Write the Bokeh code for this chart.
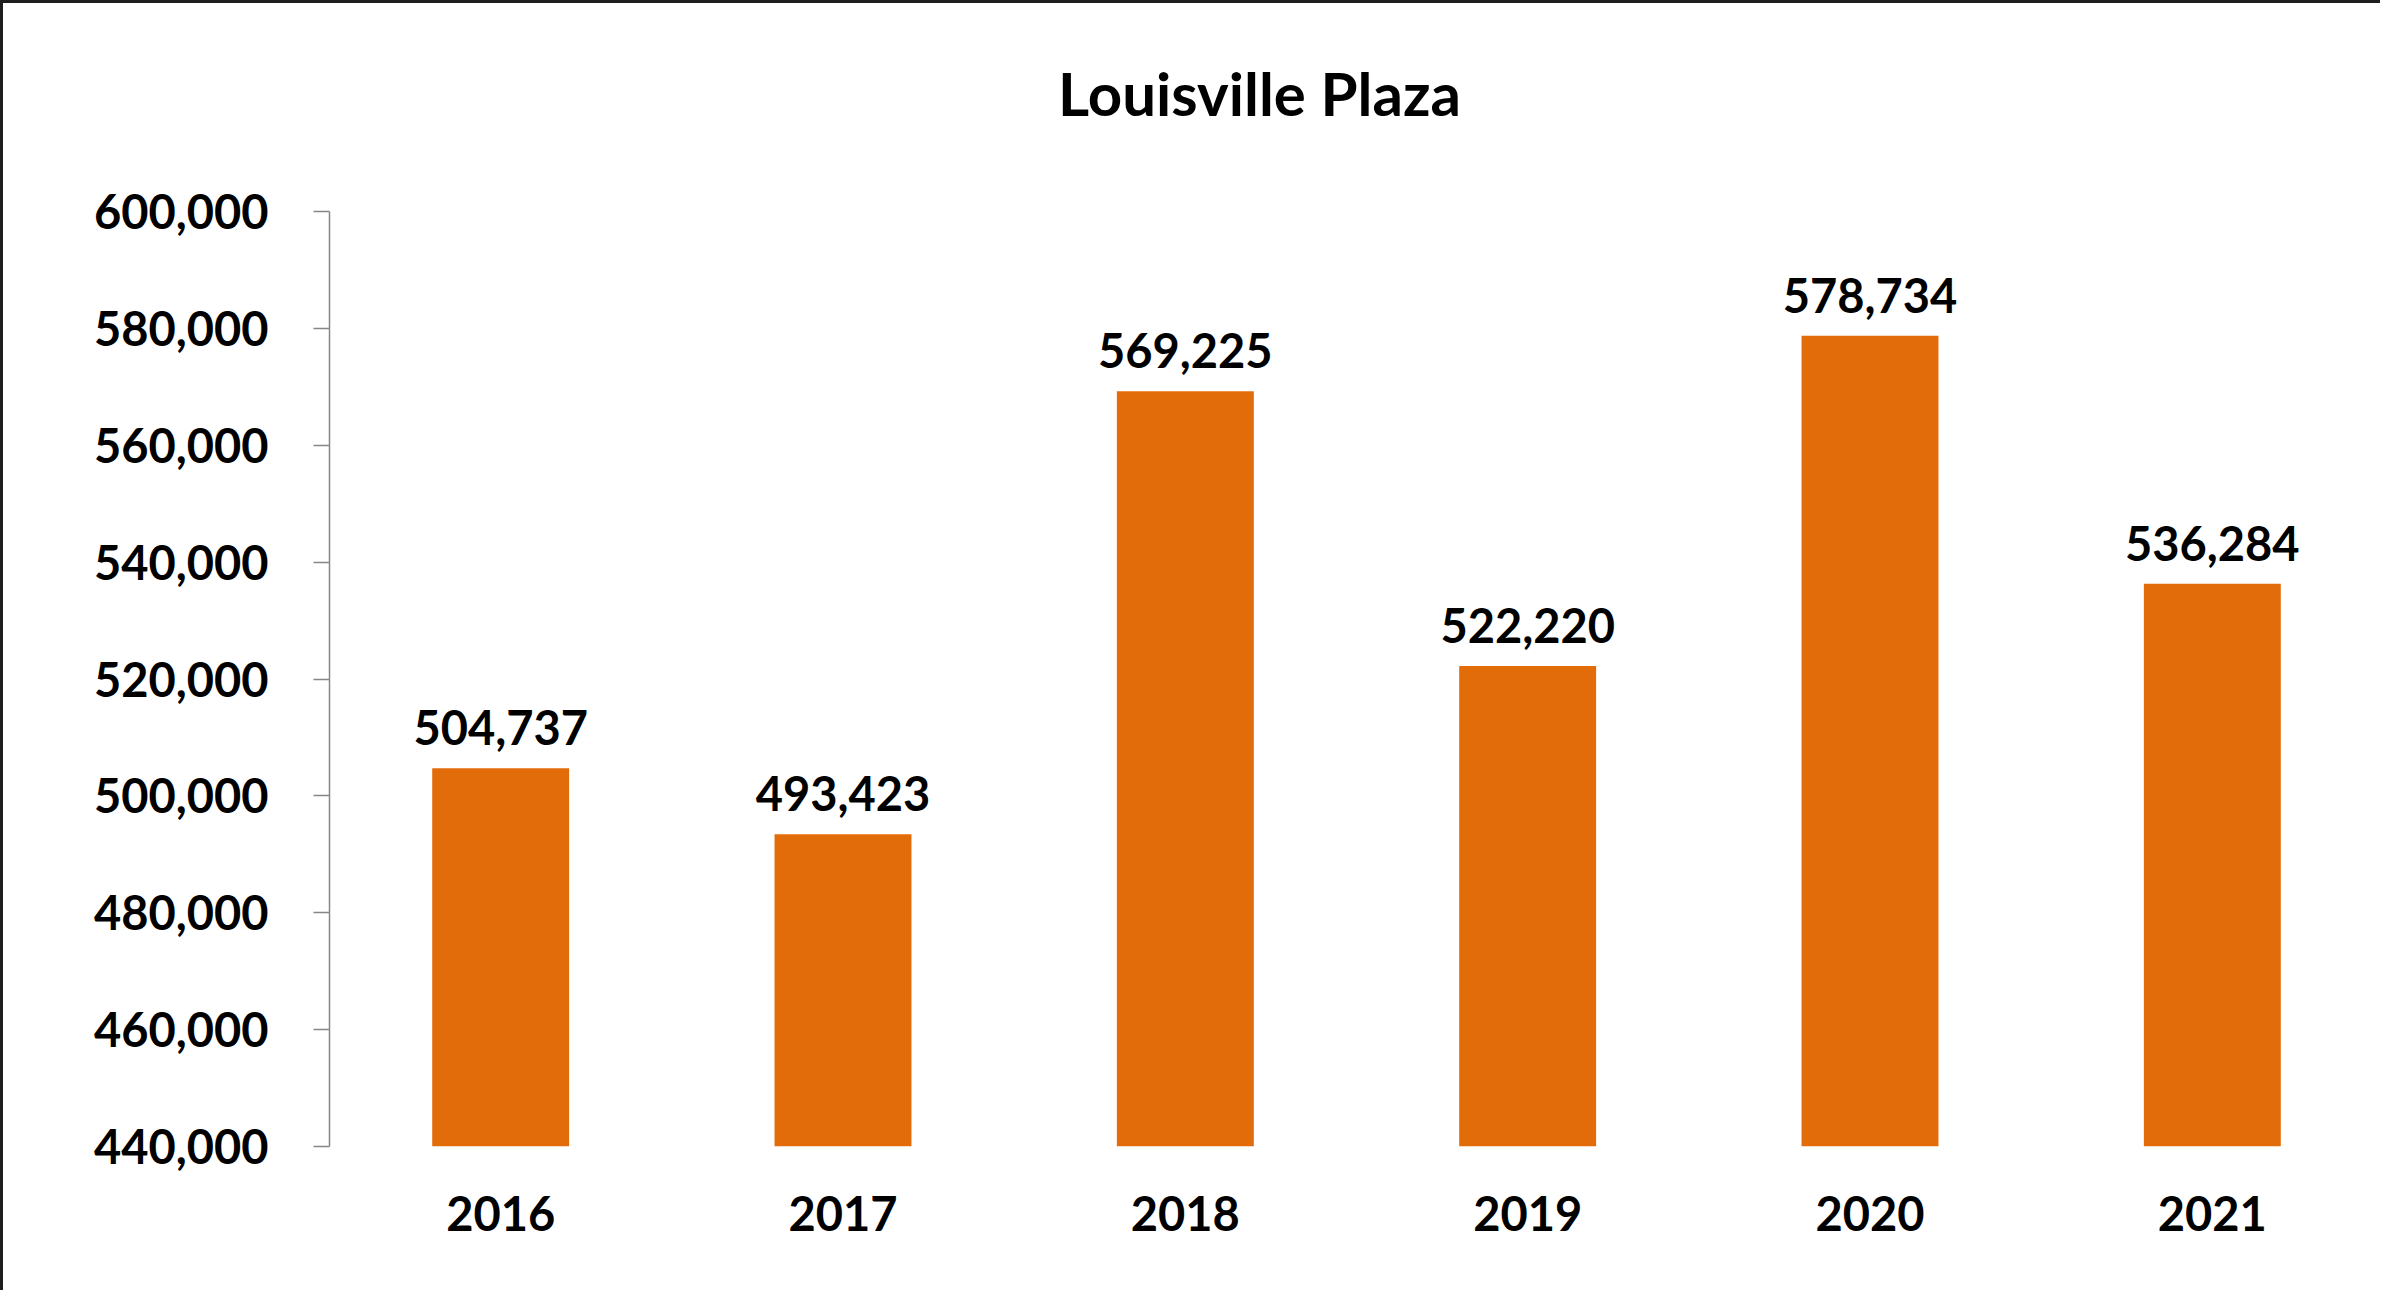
from bokeh.plotting import figure
from bokeh.models import (ColumnDataSource, FactorRange, Range1d, FixedTicker,
                          NumeralTickFormatter, LabelSet, Label)
from bokeh.core.properties import value
from bokeh.embed import file_html
from bokeh.resources import INLINE

# ---- data ----
years = ["2016", "2017", "2018", "2019", "2020", "2021"]
visitors = [504737, 493423, 569225, 522220, 578734, 536284]
value_labels = ["504,737", "493,423", "569,225", "522,220", "578,734", "536,284"]
y_ticks = [440000, 460000, 480000, 500000, 520000, 540000, 560000, 580000, 600000]
title_text = "Louisville Plaza"
axis_min, axis_max = 440000, 600000

FONT = "Lato"
BAR_COLOR = "#E36C0A"

# ---- layout geometry (page pixels) ----
CANVAS_LEFT = 11
CANVAS_TOP = 11
FRAME_TOP = 30          # plot frame extends above the axis to hold the title
AXIS_LEFT_PX = 337
AXIS_TOP_PX = 219       # where 600,000 sits
AXIS_BOTTOM_PX = 1154   # where 440,000 sits
WIDTH = 2380
HEIGHT = 1290
y_end = axis_max + (AXIS_TOP_PX - FRAME_TOP) * (axis_max - axis_min) / (AXIS_BOTTOM_PX - AXIS_TOP_PX)

src = ColumnDataSource(dict(year=years, value=visitors, label=value_labels))

p = figure(
    x_range=FactorRange(*years),
    y_range=Range1d(axis_min, y_end),
    width=WIDTH, height=HEIGHT,
    output_backend="svg", toolbar_location=None,
    min_border_left=AXIS_LEFT_PX - CANVAS_LEFT, min_border_right=0,
    min_border_top=FRAME_TOP - CANVAS_TOP,
    min_border_bottom=CANVAS_TOP + HEIGHT - AXIS_BOTTOM_PX,
)
p.styles = {"border-left": "3px solid #1e1e1e", "border-top": "3px solid #1e1e1e"}

# chart title, centred over the whole chart area
title = Label(text=title_text, x=930, y=AXIS_BOTTOM_PX - 100,
              x_units="screen", y_units="screen",
              text_align="center", text_baseline="middle",
              text_font=FONT, text_font_size="60px", text_font_style="bold",
              text_color="#000000")
p.add_layout(title)

p.vbar(x="year", top="value", bottom=axis_min, width=0.40, source=src,
       fill_color=BAR_COLOR, line_color=None)

labels = LabelSet(x="year", y="value", text="label", source=src,
                  y_offset=23, text_align="center", text_baseline="alphabetic",
                  text_font=value(FONT), text_font_size=value("47px"),
                  text_font_style=value("bold"), text_color=value("#000000"))
p.add_layout(labels)

p.outline_line_color = None
p.xgrid.grid_line_color = None
p.ygrid.grid_line_color = None
p.background_fill_color = "white"
p.border_fill_color = "white"

# y axis
ya = p.yaxis[0]
ya.bounds = (axis_min, axis_max)
ya.ticker = FixedTicker(ticks=y_ticks)
ya.formatter = NumeralTickFormatter(format="0,0")
ya.axis_line_color = "#868686"
ya.axis_line_width = 1.5
ya.major_tick_line_color = "#868686"
ya.major_tick_line_width = 1.5
ya.major_tick_out = 16
ya.major_tick_in = 0
ya.minor_tick_line_color = None
ya.major_label_standoff = 45
ya.major_label_text_font = FONT
ya.major_label_text_font_size = "47px"
ya.major_label_text_font_style = "bold"
ya.major_label_text_color = "#000000"

# x axis
xa = p.xaxis[0]
xa.axis_line_color = None
xa.major_tick_line_color = None
xa.minor_tick_line_color = None
xa.major_tick_out = 0
xa.major_tick_in = 0
xa.major_label_standoff = 49
xa.major_label_text_font = FONT
xa.major_label_text_font_size = "47px"
xa.major_label_text_font_style = "bold"
xa.major_label_text_color = "#000000"

open("out.html", "w").write(file_html(p, INLINE))
